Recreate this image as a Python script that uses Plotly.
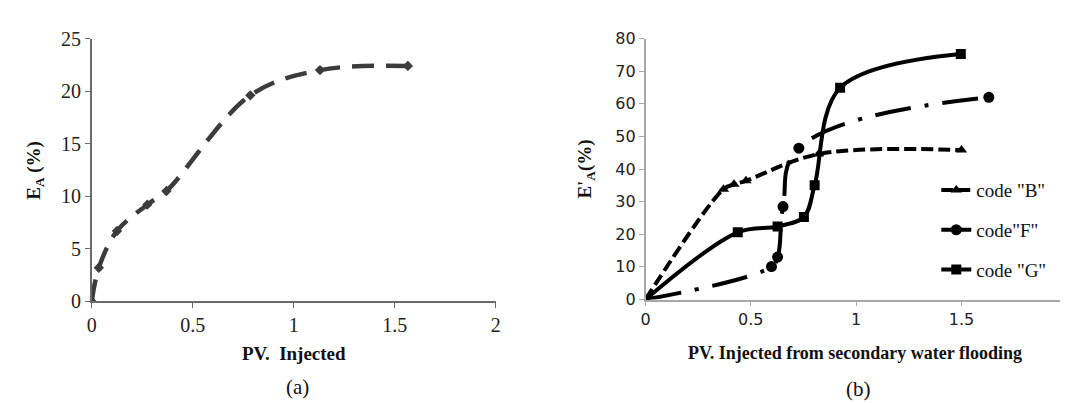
import plotly.graph_objects as go

# ---- data (a) ----
pv_a = [0, 0.035, 0.125, 0.275, 0.37, 0.785, 1.13, 1.565]
ea_a = [0, 3.2, 6.7, 9.2, 10.5, 19.6, 22.0, 22.4]

# ---- data (b) ----
pv_b = [0, 0.37, 0.42, 0.477, 0.822, 1.50]
ea_b = [0, 33.8, 35.3, 36.4, 44.6, 45.8]

pv_f = [0, 0.598, 0.627, 0.653, 0.728, 1.63]
ea_f = [0, 10.1, 13.0, 28.5, 46.4, 62.0]

pv_g = [0, 0.438, 0.627, 0.752, 0.803, 0.924, 1.497]
ea_g = [0, 20.6, 22.4, 25.3, 35.0, 64.9, 75.3]

x_ticks = [0, 0.5, 1, 1.5, 2]
x_ticklabels = ["0", "0.5", "1", "1.5", "2"]
ya_ticks = [0, 5, 10, 15, 20, 25]
yb_ticks = [0, 10, 20, 30, 40, 50, 60, 70, 80]

W, H = 1068, 403
serif = "Liberation Serif"
sans = "DejaVu Sans"

fig = go.Figure()

fig.add_trace(go.Scatter(
    x=pv_a, y=ea_a, mode="lines+markers", line_shape="spline",
    line=dict(color="#3c3c3c", width=4.5, dash="22px,12px"),
    marker=dict(symbol="diamond", size=8, color="#3c3c3c"),
    xaxis="x", yaxis="y", showlegend=False))

fig.add_trace(go.Scatter(
    x=pv_b, y=ea_b, mode="lines+markers", line_shape="spline", name='code "B"',
    line=dict(color="black", width=4, dash="12px,5px"),
    marker=dict(symbol="triangle-up", size=10, color="black"),
    xaxis="x2", yaxis="y2", legendgroup="b"))
fig.add_trace(go.Scatter(
    x=pv_f, y=ea_f, mode="lines+markers", line=dict(color="black", width=4,
    dash="36px,14px,4px,14px", shape="spline", smoothing=1.2), name='code"F"',
    marker=dict(symbol="circle", size=11, color="black"),
    xaxis="x2", yaxis="y2", legendgroup="f"))
fig.add_trace(go.Scatter(
    x=pv_g, y=ea_g, mode="lines+markers", line_shape="spline", name='code "G"',
    line=dict(color="black", width=4),
    marker=dict(symbol="square", size=10, color="black"),
    xaxis="x2", yaxis="y2", legendgroup="g"))

def px_x(p):
    return p / W

def px_y(p):
    return 1 - p / H

axis_common = dict(showgrid=False, zeroline=False, ticks="outside", ticklen=5,
                   showline=True, fixedrange=True)

fig.update_layout(
    width=W, height=H, margin=dict(l=0, r=0, t=0, b=0),
    paper_bgcolor="white", plot_bgcolor="white",
    xaxis=dict(domain=[px_x(79.5), px_x(487.3)], range=[0, 2], anchor="y",
               tickvals=x_ticks, ticktext=x_ticklabels,
               linecolor="#6a6a6a", tickcolor="#6a6a6a", linewidth=1.5,
               tickfont=dict(family=serif, size=20, color="#222"), **axis_common),
    yaxis=dict(domain=[px_y(298.7), px_y(20.7)], range=[0, 25], anchor="x",
               tickvals=ya_ticks,
               linecolor="#6a6a6a", tickcolor="#6a6a6a", linewidth=1.5,
               tickfont=dict(family=serif, size=20, color="#222"), **axis_common),
    xaxis2=dict(domain=[px_x(638.5), px_x(1063.7)], range=[0, 2], anchor="y2",
                tickvals=x_ticks, ticktext=x_ticklabels,
                linecolor="#a8a8a8", tickcolor="#a8a8a8", linewidth=1.5,
                tickfont=dict(family=sans, size=16, color="#222"), **axis_common),
    yaxis2=dict(domain=[px_y(296.7), px_y(20.7)], range=[0, 80], anchor="x2",
                tickvals=yb_ticks,
                linecolor="#a8a8a8", tickcolor="#a8a8a8", linewidth=1.5,
                tickfont=dict(family=sans, size=16, color="#222"), **axis_common),
    legend=dict(x=px_x(932), y=px_y(161), xanchor="left", yanchor="top",
                font=dict(family=serif, size=19, color="#111"),
                tracegroupgap=12, bgcolor="rgba(0,0,0,0)"),
)

annots = [
    dict(text="<b>PV.  Injected</b>", x=px_x(284), y=px_y(354), size=19),
    dict(text="(a)", x=px_x(287), y=px_y(389), size=21),
    dict(text="<b>PV. Injected from secondary water flooding</b>", x=px_x(850), y=px_y(353), size=18),
    dict(text="(b)", x=px_x(853), y=px_y(391), size=21),
]
for a in annots:
    fig.add_annotation(text=a["text"], x=a["x"], y=a["y"], xref="paper", yref="paper",
                       xanchor="center", yanchor="middle", showarrow=False,
                       font=dict(family=serif, size=a["size"], color="#111"))

fig.add_annotation(text="<b>E<sub>A</sub> (%)</b>", x=px_x(22), y=px_y(159.7),
                   xref="paper", yref="paper", textangle=-90, showarrow=False,
                   xanchor="center", yanchor="middle",
                   font=dict(family=serif, size=19, color="#111"))
fig.add_annotation(text="<b>E'<sub>A</sub>(%)</b>", x=px_x(578), y=px_y(158.7),
                   xref="paper", yref="paper", textangle=-90, showarrow=False,
                   xanchor="center", yanchor="middle",
                   font=dict(family=serif, size=19, color="#111"))

fig.write_html("out.html")
